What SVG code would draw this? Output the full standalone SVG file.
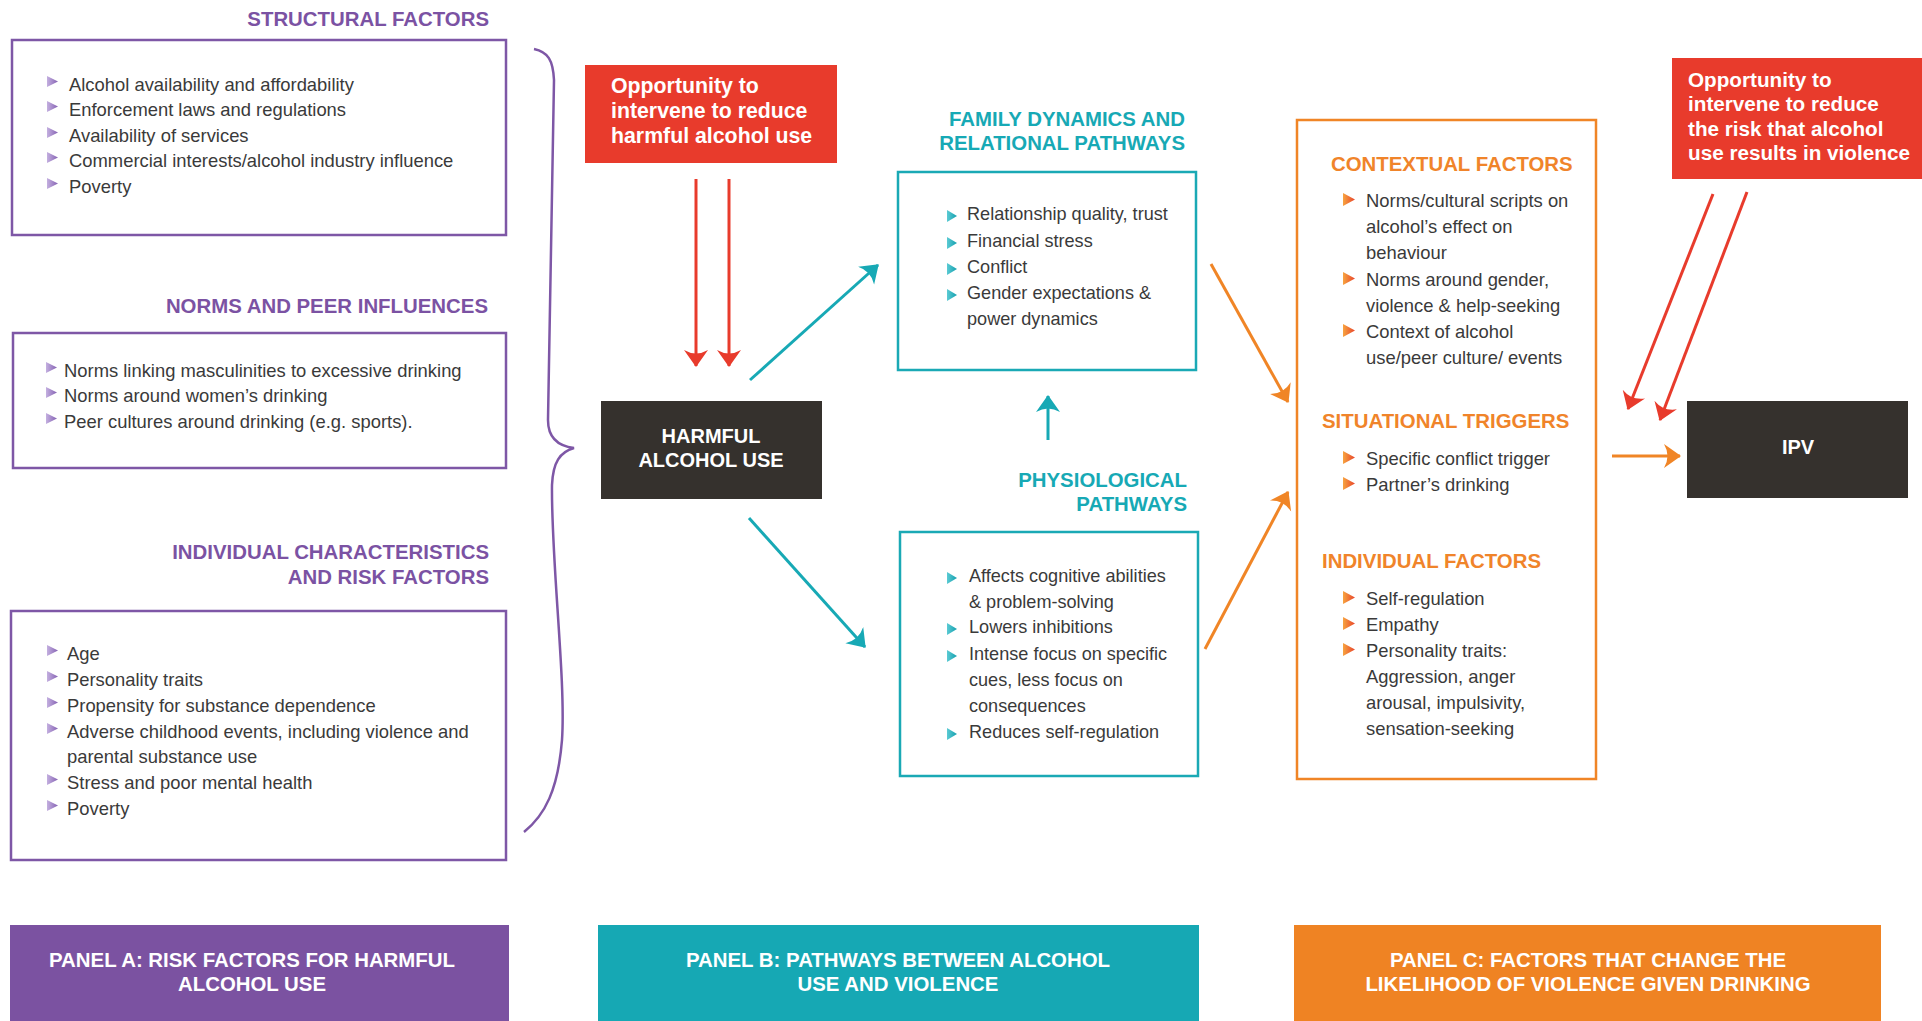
<svg xmlns="http://www.w3.org/2000/svg" xmlns:xlink="http://www.w3.org/1999/xlink" width="1922" height="1021" viewBox="0 0 1922 1021">
<style>
.body{font-family:"Liberation Sans",Arial,sans-serif;font-size:18.4px;fill:#3a3a3a}
.tb{font-size:18.1px}
.h{font-family:"Liberation Sans",Arial,sans-serif;font-size:20.4px;font-weight:bold}
.hp{fill:#7b52a3;text-anchor:end}
.ht{fill:#17a9b5;text-anchor:end}
.ho{fill:#f0842a}
.w{font-family:"Liberation Sans",Arial,sans-serif;font-weight:bold;fill:#ffffff}
.c{text-anchor:middle}
.bp{fill:none;stroke:#7e57a6;stroke-width:2.5}
.bt{fill:none;stroke:#1aa9b5;stroke-width:2.5}
.bo{fill:none;stroke:#f08526;stroke-width:2.5}
.ar{stroke:#e83b2c;stroke-width:3;fill:none}
.at{stroke:#17a9b5;stroke-width:3;fill:none}
.ao{stroke:#f08526;stroke-width:3;fill:none}
</style>
<defs>
<linearGradient id="gp" x1="0" y1="0" x2="1" y2="0"><stop offset="0" stop-color="#c4b0e0"/><stop offset="1" stop-color="#8562b3"/></linearGradient>
<linearGradient id="gt" x1="0" y1="0" x2="1" y2="0"><stop offset="0" stop-color="#5ccbd4"/><stop offset="1" stop-color="#139fae"/></linearGradient>
<linearGradient id="go" x1="0" y1="0" x2="1" y2="0"><stop offset="0" stop-color="#f7a440"/><stop offset="1" stop-color="#e8452b"/></linearGradient>
<path id="tp" d="M0,0 L11,5.5 L0,11 Z" fill="url(#gp)"/>
<path id="tt" d="M0,0 L10,6 L0,12 Z" fill="url(#gt)"/>
<path id="to" d="M0,0 L12,6.5 L0,13 Z" fill="url(#go)"/>
<marker id="mr" markerUnits="userSpaceOnUse" markerWidth="18" markerHeight="26" viewBox="0 0 18 26" refX="16" refY="13" orient="auto"><path d="M17,13 L0,1 Q7,13 0,25 Z" fill="#e83b2c"/></marker>
<marker id="mt" markerUnits="userSpaceOnUse" markerWidth="18" markerHeight="26" viewBox="0 0 18 26" refX="16" refY="13" orient="auto"><path d="M17,13 L0,1 Q7,13 0,25 Z" fill="#17a9b5"/></marker>
<marker id="mo" markerUnits="userSpaceOnUse" markerWidth="18" markerHeight="26" viewBox="0 0 18 26" refX="16" refY="13" orient="auto"><path d="M17,13 L0,1 Q7,13 0,25 Z" fill="#f08526"/></marker>
</defs>
<rect width="1922" height="1021" fill="#ffffff"/>

<g id="structural">
<text class="h hp" x="489" y="26">STRUCTURAL FACTORS</text>
<rect class="bp" x="12" y="40" width="494" height="195"/>
<use xlink:href="#tp" x="47" y="76"/><text class="body" x="69" y="91">Alcohol availability and affordability</text>
<use xlink:href="#tp" x="47" y="101"/><text class="body" x="69" y="116">Enforcement laws and regulations</text>
<use xlink:href="#tp" x="47" y="127"/><text class="body" x="69" y="142">Availability of services</text>
<use xlink:href="#tp" x="47" y="152"/><text class="body" x="69" y="167">Commercial interests/alcohol industry influence</text>
<use xlink:href="#tp" x="47" y="178"/><text class="body" x="69" y="193">Poverty</text>
</g>

<g id="norms">
<text class="h hp" x="488" y="313">NORMS AND PEER INFLUENCES</text>
<rect class="bp" x="13" y="333" width="493" height="135"/>
<use xlink:href="#tp" x="46" y="362"/><text class="body" x="64" y="377">Norms linking masculinities to excessive drinking</text>
<use xlink:href="#tp" x="46" y="387"/><text class="body" x="64" y="402">Norms around women’s drinking</text>
<use xlink:href="#tp" x="46" y="413"/><text class="body" x="64" y="428">Peer cultures around drinking (e.g. sports).</text>
</g>

<g id="individual-characteristics">
<text class="h hp" x="489" y="559">INDIVIDUAL CHARACTERISTICS</text>
<text class="h hp" x="489" y="584">AND RISK FACTORS</text>
<rect class="bp" x="11" y="611" width="495" height="249"/>
<use xlink:href="#tp" x="47" y="645"/><text class="body" x="67" y="660">Age</text>
<use xlink:href="#tp" x="47" y="671"/><text class="body" x="67" y="686">Personality traits</text>
<use xlink:href="#tp" x="47" y="697"/><text class="body" x="67" y="712">Propensity for substance dependence</text>
<use xlink:href="#tp" x="47" y="723"/><text class="body" x="67" y="738">Adverse childhood events, including violence and</text>
<text class="body" x="67" y="763">parental substance use</text>
<use xlink:href="#tp" x="47" y="774"/><text class="body" x="67" y="789">Stress and poor mental health</text>
<use xlink:href="#tp" x="47" y="800"/><text class="body" x="67" y="815">Poverty</text>
</g>

<g id="brace">
<path d="M534,49 C548,52 553,60 554,80 L548,420 C548,438 558,446 574,448 C560,452 553,462 552,485 C551,560 566,680 562,740 C558,790 545,815 524,832" fill="none" stroke="#7e57a6" stroke-width="2.5"/>
</g>

<g id="opportunity-1">
<rect x="585" y="65" width="252" height="98" fill="#e83b2c"/>
<text class="w" font-size="21.3" x="611" y="93">Opportunity to</text>
<text class="w" font-size="21.3" x="611" y="118">intervene to reduce</text>
<text class="w" font-size="21.3" x="611" y="143">harmful alcohol use</text>
</g>

<g id="harmful-alcohol-use">
<rect x="601" y="401" width="221" height="98" fill="#35312d"/>
<text class="w c" font-size="20" x="711" y="443">HARMFUL</text>
<text class="w c" font-size="20" x="711" y="467">ALCOHOL USE</text>
</g>

<g id="family-dynamics">
<text class="h ht" x="1185" y="126">FAMILY DYNAMICS AND</text>
<text class="h ht" x="1185" y="150">RELATIONAL PATHWAYS</text>
<rect class="bt" x="898" y="172" width="298" height="198"/>
<use xlink:href="#tt" x="947" y="210"/><text class="body tb" x="967" y="220">Relationship quality, trust</text>
<use xlink:href="#tt" x="947" y="237"/><text class="body tb" x="967" y="247">Financial stress</text>
<use xlink:href="#tt" x="947" y="263"/><text class="body tb" x="967" y="273">Conflict</text>
<use xlink:href="#tt" x="947" y="289"/><text class="body tb" x="967" y="299">Gender expectations &amp;</text>
<text class="body tb" x="967" y="325">power dynamics</text>
</g>

<g id="physiological">
<text class="h ht" x="1187" y="487">PHYSIOLOGICAL</text>
<text class="h ht" x="1187" y="511">PATHWAYS</text>
<rect class="bt" x="900" y="532" width="298" height="244"/>
<use xlink:href="#tt" x="947" y="572"/><text class="body tb" x="969" y="582">Affects cognitive abilities</text>
<text class="body tb" x="969" y="608">&amp; problem-solving</text>
<use xlink:href="#tt" x="947" y="623"/><text class="body tb" x="969" y="633">Lowers inhibitions</text>
<use xlink:href="#tt" x="947" y="650"/><text class="body tb" x="969" y="660">Intense focus on specific</text>
<text class="body tb" x="969" y="686">cues, less focus on</text>
<text class="body tb" x="969" y="712">consequences</text>
<use xlink:href="#tt" x="947" y="728"/><text class="body tb" x="969" y="738">Reduces self-regulation</text>
</g>

<g id="panel-c-factors">
<rect class="bo" x="1297" y="120" width="299" height="659"/>
<text class="h ho" x="1331" y="171">CONTEXTUAL FACTORS</text>
<use xlink:href="#to" x="1343" y="193"/><text class="body" x="1366" y="207">Norms/cultural scripts on</text>
<text class="body" x="1366" y="233">alcohol’s effect on</text>
<text class="body" x="1366" y="259">behaviour</text>
<use xlink:href="#to" x="1343" y="272"/><text class="body" x="1366" y="286">Norms around gender,</text>
<text class="body" x="1366" y="312">violence &amp; help-seeking</text>
<use xlink:href="#to" x="1343" y="324"/><text class="body" x="1366" y="338">Context of alcohol</text>
<text class="body" x="1366" y="364">use/peer culture/ events</text>
<text class="h ho" x="1322" y="428">SITUATIONAL TRIGGERS</text>
<use xlink:href="#to" x="1343" y="451"/><text class="body" x="1366" y="465">Specific conflict trigger</text>
<use xlink:href="#to" x="1343" y="477"/><text class="body" x="1366" y="491">Partner’s drinking</text>
<text class="h ho" x="1322" y="568">INDIVIDUAL FACTORS</text>
<use xlink:href="#to" x="1343" y="591"/><text class="body" x="1366" y="605">Self-regulation</text>
<use xlink:href="#to" x="1343" y="617"/><text class="body" x="1366" y="631">Empathy</text>
<use xlink:href="#to" x="1343" y="643"/><text class="body" x="1366" y="657">Personality traits:</text>
<text class="body" x="1366" y="683">Aggression, anger</text>
<text class="body" x="1366" y="709">arousal, impulsivity,</text>
<text class="body" x="1366" y="735">sensation-seeking</text>
</g>

<g id="opportunity-2">
<rect x="1672" y="58" width="250" height="121" fill="#e83b2c"/>
<text class="w" font-size="20.7" x="1688" y="87">Opportunity to</text>
<text class="w" font-size="20.7" x="1688" y="111">intervene to reduce</text>
<text class="w" font-size="20.7" x="1688" y="136">the risk that alcohol</text>
<text class="w" font-size="20.7" x="1688" y="160">use results in violence</text>
</g>

<g id="ipv">
<rect x="1687" y="401" width="221" height="97" fill="#35312d"/>
<text class="w c" font-size="20" x="1798" y="454">IPV</text>
</g>

<g id="panels">
<rect x="10" y="925" width="499" height="96" fill="#7b52a1"/>
<text class="w c" font-size="20.4" x="252" y="967">PANEL A: RISK FACTORS FOR HARMFUL</text>
<text class="w c" font-size="20.4" x="252" y="991">ALCOHOL USE</text>
<rect x="598" y="925" width="601" height="96" fill="#16a8b4"/>
<text class="w c" font-size="20.4" x="898" y="967">PANEL B: PATHWAYS BETWEEN ALCOHOL</text>
<text class="w c" font-size="20.4" x="898" y="991">USE AND VIOLENCE</text>
<rect x="1294" y="925" width="587" height="96" fill="#ef8323"/>
<text class="w c" font-size="20.4" x="1588" y="967">PANEL C: FACTORS THAT CHANGE THE</text>
<text class="w c" font-size="20.4" x="1588" y="991">LIKELIHOOD OF VIOLENCE GIVEN DRINKING</text>
</g>

<g id="connectors">
<line class="ar" x1="696" y1="179" x2="696" y2="366" marker-end="url(#mr)"/>
<line class="ar" x1="729" y1="179" x2="729" y2="366" marker-end="url(#mr)"/>
<line class="at" x1="750" y1="380" x2="878" y2="265" marker-end="url(#mt)"/>
<line class="at" x1="749" y1="518" x2="865" y2="647" marker-end="url(#mt)"/>
<line class="at" x1="1048" y1="440" x2="1048" y2="396" marker-end="url(#mt)"/>
<line class="ao" x1="1211" y1="264" x2="1288" y2="402" marker-end="url(#mo)"/>
<line class="ao" x1="1205" y1="649" x2="1288" y2="492" marker-end="url(#mo)"/>
<line class="ao" x1="1612" y1="456" x2="1680" y2="456" marker-end="url(#mo)"/>
<line class="ar" x1="1713" y1="194" x2="1628" y2="409" marker-end="url(#mr)"/>
<line class="ar" x1="1747" y1="192" x2="1660" y2="420" marker-end="url(#mr)"/>
</g>
</svg>
